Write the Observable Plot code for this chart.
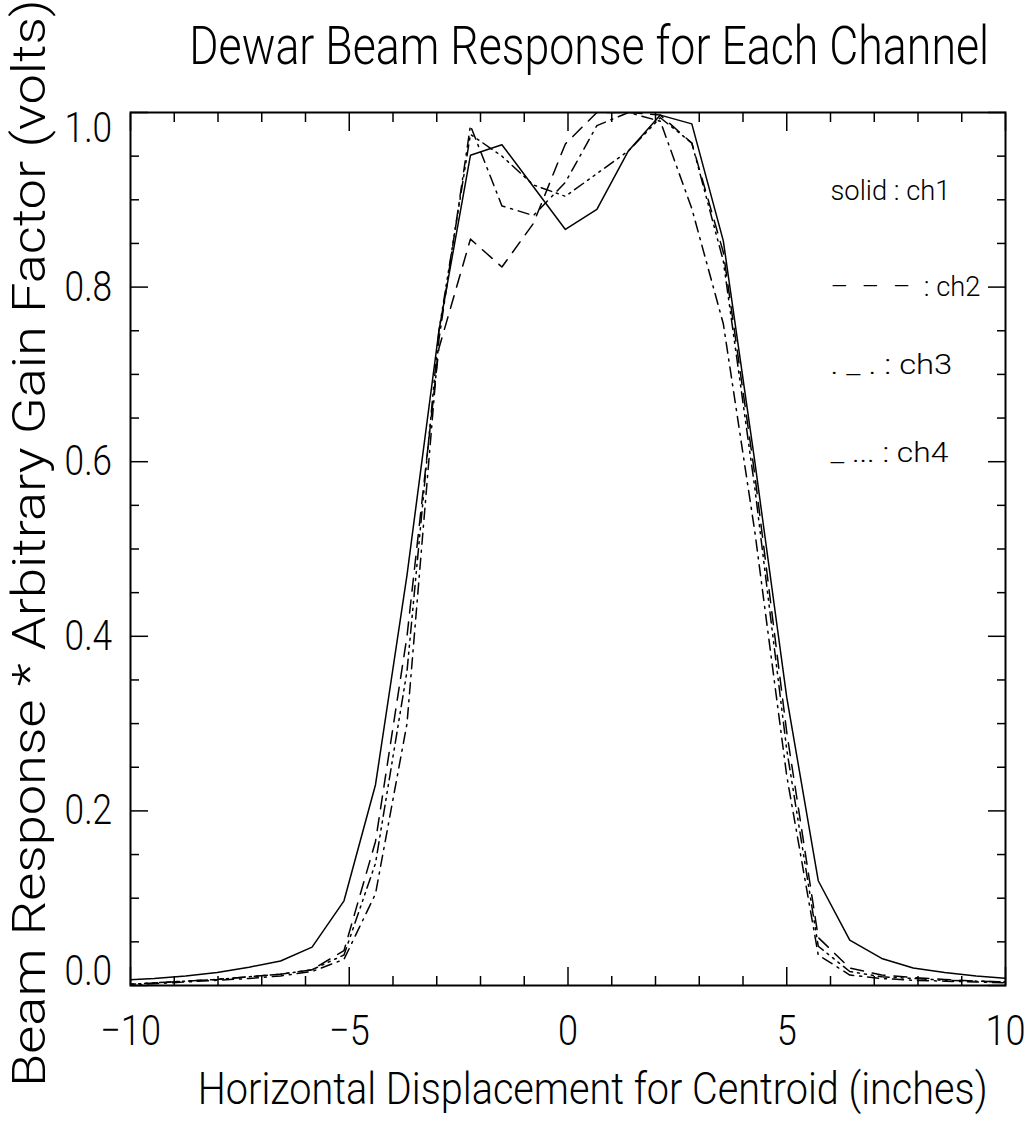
<!DOCTYPE html>
<html><head><meta charset="utf-8">
<script src="https://cdn.jsdelivr.net/npm/d3@7"></script>
<script src="https://cdn.jsdelivr.net/npm/@observablehq/plot@0.6"></script>
<style>
body{margin:0;background:#fff}
#chart svg{display:block}
</style>
</head><body><div id="chart"></div>
<script>
// ---- data ----
const xPos = [-10.18,-9.46,-8.74,-8.02,-7.29,-6.57,-5.85,-5.12,-4.40,-3.68,-2.95,-2.23,-1.51,-0.79,-0.06,0.66,1.38,2.11,2.83,3.55,4.27,5.00,5.72,6.44,7.17,7.89,8.61,9.33,10.06];
const ch1 = [0.006,0.008,0.011,0.015,0.021,0.028,0.044,0.097,0.23,0.47,0.75,0.951,0.963,0.915,0.866,0.889,0.956,0.997,0.987,0.853,0.60,0.33,0.12,0.052,0.031,0.020,0.015,0.011,0.008];
const ch2 = [0.001,0.003,0.005,0.007,0.010,0.013,0.018,0.040,0.165,0.40,0.73,0.855,0.823,0.873,0.964,1.0,1.0,0.997,0.965,0.84,0.585,0.29,0.055,0.02,0.012,0.009,0.007,0.005,0.004];
const ch3 = [0.0,0.002,0.004,0.006,0.008,0.011,0.016,0.030,0.105,0.30,0.74,0.985,0.893,0.882,0.92,0.985,1.0,0.99,0.89,0.758,0.52,0.24,0.035,0.012,0.008,0.006,0.005,0.004,0.003];
const ch4 = [0.001,0.003,0.005,0.007,0.010,0.013,0.018,0.035,0.14,0.36,0.75,0.975,0.95,0.917,0.904,0.93,0.956,0.994,0.965,0.83,0.57,0.27,0.045,0.016,0.01,0.008,0.006,0.005,0.004];
const channels = ["ch1","ch2","ch3","ch4"];
const dashes = [null, "13,9", "11,6,2,6", "11,5,2,5,2,5,2,5"];
const legendLabels = ["solid : ch1", "–\u00a0\u00a0–\u00a0\u00a0–\u00a0\u00a0: ch2", ". _ . : ch3", "_ ... : ch4"];
const legendY = [0.9, 0.79, 0.70, 0.60];
const legendX = 6.0;
const xMajor = [-10,-5,0,5,10];
const xMinor = [-9,-8,-7,-6,-4,-3,-2,-1,1,2,3,4,6,7,8,9];
const yMajor = [0,0.2,0.4,0.6,0.8,1.0];
const yMinor = [0.05,0.1,0.15,0.25,0.3,0.35,0.45,0.5,0.55,0.65,0.7,0.75,0.85,0.9,0.95];
const title = "Dewar Beam Response for Each Channel";
const xTitle = "Horizontal Displacement for Centroid (inches)";
const yTitle = "Beam Response * Arbitrary Gain Factor (volts)";

const values = [ch1, ch2, ch3, ch4];
const rows = channels.flatMap((c, k) => xPos.map((x, i) => ({ch: c, x, y: values[k][i]})));
const legend = legendLabels.map((t, i) => ({t, x: legendX, y: legendY[i]}));

const FONT = "Roboto, Lato, 'Open Sans', sans-serif";
const blank = () => "";
const fmt = d3.format(".1f");
const tickStyle = {tickFormat: blank, label: null, strokeWidth: 1.5};

const chart = Plot.plot({
  width: 1029, height: 1125,
  marginLeft: 130, marginRight: 24, marginTop: 112, marginBottom: 140,
  style: {fontFamily: FONT, fontWeight: 300, background: "white", color: "black", overflow: "visible"},
  x: {domain: [-10, 10]},
  y: {domain: [0, 1]},
  marks: [
    ...channels.map((c, k) => Plot.line(rows.filter(d => d.ch === c), {
      x: "x", y: "y", stroke: "black", strokeWidth: 1.5, clip: true,
      strokeDasharray: dashes[k]
    })),
    Plot.frame({stroke: "black", strokeWidth: 2}),
    // inward ticks, all four sides
    Plot.axisX({anchor: "bottom", ticks: xMajor, tickSize: -18, ...tickStyle}),
    Plot.axisX({anchor: "bottom", ticks: xMinor, tickSize: -9, ...tickStyle}),
    Plot.axisX({anchor: "top", ticks: xMajor, tickSize: -18, ...tickStyle}),
    Plot.axisX({anchor: "top", ticks: xMinor, tickSize: -9, ...tickStyle}),
    Plot.axisY({anchor: "left", ticks: yMajor, tickSize: -18, ...tickStyle}),
    Plot.axisY({anchor: "left", ticks: yMinor, tickSize: -9, ...tickStyle}),
    Plot.axisY({anchor: "right", ticks: yMajor, tickSize: -18, ...tickStyle}),
    Plot.axisY({anchor: "right", ticks: yMinor, tickSize: -9, ...tickStyle}),
    // tick labels
    Plot.axisX({anchor: "bottom", ticks: xMajor, tickSize: 0, tickPadding: 29, fontSize: 43, label: null}),
    Plot.axisY({anchor: "left", ticks: yMajor.slice(1, -1), tickSize: 0, tickPadding: 12, tickFormat: fmt, fontSize: 42, label: null}),
    Plot.axisY({anchor: "left", ticks: [yMajor[0]], tickSize: 0, tickPadding: 12, tickFormat: fmt, fontSize: 42, label: null, dy: -14}),
    Plot.axisY({anchor: "left", ticks: [yMajor[yMajor.length-1]], tickSize: 0, tickPadding: 12, tickFormat: fmt, fontSize: 42, label: null, dy: 16}),
    // titles
    Plot.text([title], {frameAnchor: "top", lineAnchor: "middle", textAnchor: "middle", dx: 18, dy: -66, fontSize: 54, text: d => d}),
    Plot.text([xTitle], {frameAnchor: "bottom", lineAnchor: "middle", textAnchor: "middle", dx: 22, dy: 104, fontSize: 45, text: d => d}),
    Plot.text([yTitle], {frameAnchor: "left", lineAnchor: "middle", textAnchor: "middle", dx: -100, dy: -7, rotate: -90, fontSize: 46, text: d => d}),
    // legend
    Plot.text(legend, {x: "x", y: "y", text: "t", textAnchor: "start", lineAnchor: "bottom", fontSize: 27})
  ]
});
document.getElementById("chart").appendChild(chart);

// Narrow the glyphs to the width the reference's stroke font takes (scale about each text's own centre)
const targetLen = new Map([[title, 800], [xTitle, 790], [yTitle, 1088],
  [legendLabels[0], 120], [legendLabels[1], 150], [legendLabels[2], 122], [legendLabels[3], 118]]);
const svgBox = chart.getBoundingClientRect();
const items = [];
d3.select(chart).selectAll("text").each(function() {
  if (this.querySelector("tspan") || !this.textContent) return;
  const r = this.getBoundingClientRect();
  const vertical = r.height > r.width * 1.5 && this.textContent.length > 3;
  const cur = vertical ? r.height : r.width;
  const s = targetLen.has(this.textContent) ? targetLen.get(this.textContent) / cur : 0.84;
  const cx = r.x - svgBox.x + r.width / 2, cy = r.y - svgBox.y + r.height / 2;
  let ax = s, ay = 1;
  let ox = cx;
  if (this.getAttribute("text-anchor") === "start" || getComputedStyle(this).textAnchor === "start") ox = r.x - svgBox.x;
  if (vertical) { ax = 1; ay = s; ox = cx; }
  items.push([this, ox, cy, ax, ay]);
});
for (const [el, ox, cy, ax, ay] of items) {
  const g = document.createElementNS("http://www.w3.org/2000/svg", "g");
  g.setAttribute("transform", `translate(${ox},${cy}) scale(${ax},${ay}) translate(${-ox},${-cy})`);
  el.parentNode.insertBefore(g, el);
  g.appendChild(el);
}
</script>
</body></html>
